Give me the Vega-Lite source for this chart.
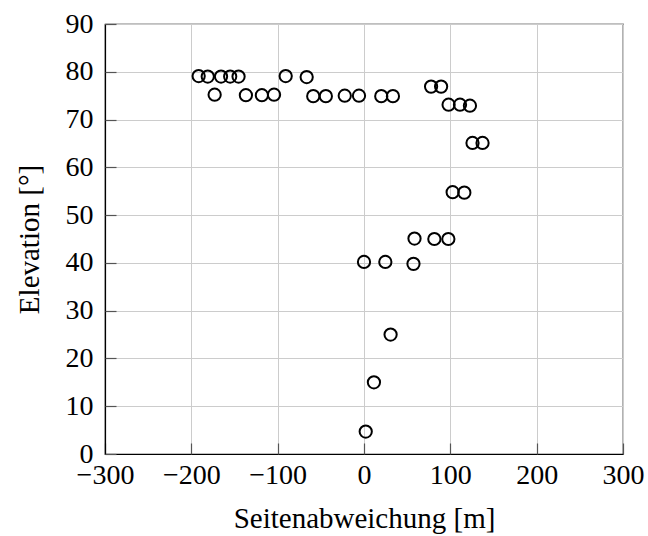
{
  "$schema": "https://vega.github.io/schema/vega-lite/v6.json",
  "autosize": {"type": "none"},
  "padding": {"left": 105, "top": 24, "right": 25, "bottom": 82},
  "width": 518,
  "height": 430,
  "background": "white",
  "config": {
    "view": {"stroke": "black", "strokeWidth": 1.2},
    "font": "Liberation Serif, serif",
    "axis": {
      "labelFont": "Liberation Serif, serif",
      "titleFont": "Liberation Serif, serif",
      "labelFontSize": 28,
      "titleFontSize": 29,
      "titleFontWeight": "normal",
      "labelColor": "black",
      "titleColor": "black",
      "domainColor": "black",
      "domainWidth": 1.2,
      "gridColor": "#cccccc",
      "gridWidth": 1,
      "tickColor": "#555555",
      "tickWidth": 1.2,
      "ticks": false,
      "labelOverlap": false,
      "labelFlush": false
    }
  },
  "data": {
    "values": [
      {"x": -191.5, "y": 79.1}, {"x": -181, "y": 79}, {"x": -165.6, "y": 79}, {"x": -155, "y": 79}, {"x": -145.3, "y": 79},
      {"x": -90.7, "y": 79.1}, {"x": -66.4, "y": 78.9},
      {"x": -173, "y": 75.2}, {"x": -136.8, "y": 75.1}, {"x": -118.3, "y": 75.1}, {"x": -104.2, "y": 75.2},
      {"x": -58.8, "y": 74.9}, {"x": -44.2, "y": 74.9}, {"x": -22.3, "y": 75}, {"x": -5.8, "y": 75},
      {"x": 20, "y": 74.9}, {"x": 33.5, "y": 74.9},
      {"x": 77.7, "y": 76.9}, {"x": 89.3, "y": 76.9},
      {"x": 98, "y": 73.1}, {"x": 111.2, "y": 73.1}, {"x": 122.7, "y": 72.9},
      {"x": 125.7, "y": 65.1}, {"x": 137.3, "y": 65.1},
      {"x": 102.7, "y": 54.8}, {"x": 116.2, "y": 54.7},
      {"x": 58.5, "y": 45.1}, {"x": 81.5, "y": 45}, {"x": 97.7, "y": 45},
      {"x": 0, "y": 40.2}, {"x": 24.7, "y": 40.2}, {"x": 57.3, "y": 39.8},
      {"x": 30.8, "y": 25}, {"x": 11.5, "y": 15}, {"x": 2, "y": 4.7}
    ]
  },
  "resolve": {"axis": {"x": "independent", "y": "independent"}},
  "layer": [
    {
      "mark": {"type": "point", "shape": "circle", "filled": false, "color": "black", "size": 150, "strokeWidth": 2, "opacity": 1},
      "encoding": {
        "x": {
          "field": "x", "type": "quantitative",
          "scale": {"domain": [-300, 300], "nice": false, "zero": false},
          "axis": {"orient": "bottom", "values": [-300, -200, -100, 0, 100, 200, 300], "title": "Seitenabweichung [m]", "labelPadding": 7, "titlePadding": 15}
        },
        "y": {
          "field": "y", "type": "quantitative",
          "scale": {"domain": [0, 90], "nice": false},
          "axis": {"orient": "left", "values": [0, 10, 20, 30, 40, 50, 60, 70, 80, 90], "title": "Elevation [°]", "labelPadding": 12, "titlePadding": 21}
        }
      }
    },
    {
      "mark": {"type": "point", "shape": "circle", "filled": false, "color": "black", "size": 150, "opacity": 0},
      "encoding": {
        "x": {
          "field": "x", "type": "quantitative",
          "scale": {"domain": [-300, 300], "nice": false, "zero": false},
          "axis": {"orient": "bottom", "values": [-300, -200, -100, 0, 100, 200, 300], "title": null, "labels": false, "domain": false, "grid": false, "ticks": true, "tickSize": 11, "offset": -11}
        },
        "y": {
          "field": "y", "type": "quantitative",
          "scale": {"domain": [0, 90], "nice": false},
          "axis": {"orient": "left", "values": [0, 10, 20, 30, 40, 50, 60, 70, 80, 90], "title": null, "labels": false, "domain": false, "grid": false, "ticks": true, "tickSize": 11, "offset": -11}
        }
      }
    }
  ]
}
